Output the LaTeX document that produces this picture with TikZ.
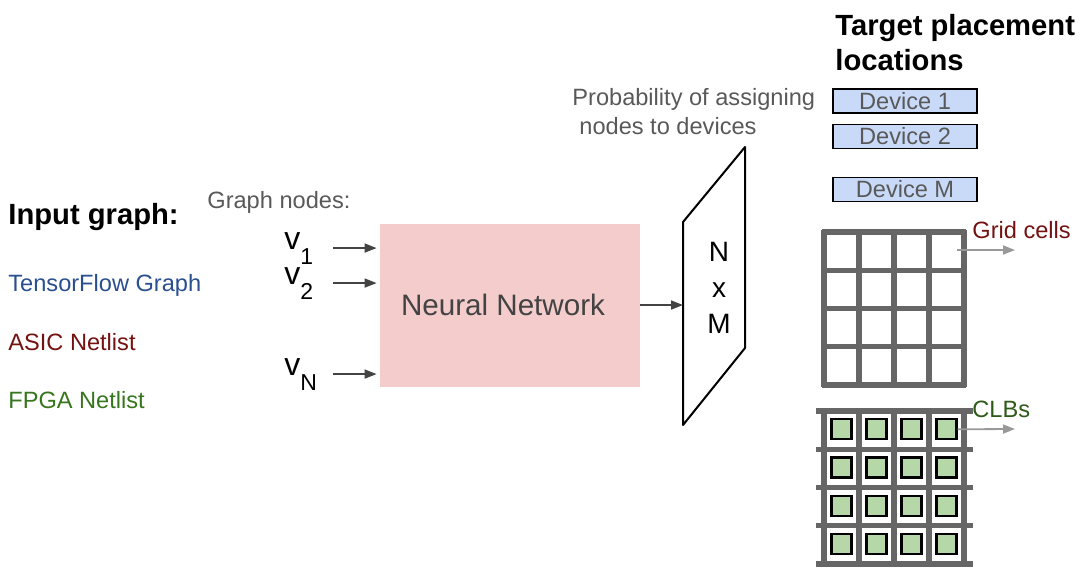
\documentclass[tikz,border=0pt]{standalone}
\usepackage{fontspec}
\setmainfont{Liberation Sans}
\usetikzlibrary{arrows.meta,positioning}
\definecolor{txtgray}{HTML}{595959}
\definecolor{darkgray}{HTML}{434343}
\definecolor{nnpink}{HTML}{F4CCCC}
\definecolor{devblue}{HTML}{C9DAF8}
\definecolor{clbgreen}{HTML}{B6D7A8}
\definecolor{gridgray}{HTML}{666666}
\definecolor{callgray}{HTML}{999999}
\definecolor{tfblue}{HTML}{2A4F8F}
\definecolor{asicred}{HTML}{741212}
\definecolor{fpgagreen}{HTML}{38761D}
\definecolor{clbtext}{HTML}{2E5A18}
\newcommand{\vsub}[1]{v\raisebox{-7.5pt}{\fontsize{11.5}{12}\selectfont#1}}
\tikzset{
  body/.style={font=\fontsize{11.8}{14.5}\selectfont, inner sep=0pt},
  head/.style={font=\bfseries\fontsize{14.6}{17.5}\selectfont, inner sep=0pt},
  vnode/.style={font=\fontsize{16}{17}\selectfont, inner sep=0pt, anchor=base west},
  feed/.style={draw=darkgray, line width=0.8pt, -{Triangle[length=6pt,width=4.5pt]}},
  callout/.style={draw=callgray, line width=0.9pt, -{Triangle[length=6pt,width=4.5pt]}},
  devbox/.style={body, draw=black, line width=0.8pt, fill=devblue, text=txtgray,
    minimum width=72pt, minimum height=12pt},
  clb/.style={draw=black, line width=1.2pt, fill=clbgreen, minimum size=10pt, inner sep=0pt},
  grid line/.style={draw=gridgray, line width=2.6pt}
}
\begin{document}
\begin{tikzpicture}[x=0.5pt,y=-0.5pt]
  \useasboundingbox (0,0) rectangle (1080,586);
  % left column
  \node[head, anchor=west] (ig) at (8,217) {Input graph:};
  \node[body, anchor=west, text=tfblue] (tf) at (8,285) {TensorFlow Graph};
  \node[body, anchor=west, text=asicred] (asic) at (8,342) {ASIC Netlist};
  \node[body, anchor=west, text=fpgagreen] (fpga) at (8,400) {FPGA Netlist};
  % graph nodes
  \node[body, anchor=west, text=txtgray] (gn) at (207,202) {Graph nodes:};
  \node[vnode] (v1) at (284,249) {\vsub{1}};
  \node[vnode] (v2) at (284,284) {\vsub{2}};
  \node[vnode] (vN) at (284,375) {\vsub{N}};
  \node[fill=nnpink, minimum width=130pt, minimum height=81.5pt, inner sep=0pt,
    font=\fontsize{14.8}{17}\selectfont, text=darkgray] (nn) at (510,305) {Neural Network\hspace*{7pt}};
  \coordinate (vx) at (333,0);
  \foreach \v in {v1,v2,vN}
    \draw[feed, shorten >=1.5pt] (\v.east -| vx) -- (\v.east -| nn.west);
  % output matrix
  \coordinate (pa) at (683,222);
  \coordinate (pb) at (745,147);
  \coordinate (pc) at (745,348);
  \coordinate (pd) at (683,425);
  \draw[line width=1pt, line join=round] (pa) -- (pb) -- (pc) -- (pd) -- cycle;
  \node[align=center, font=\fontsize{14}{18}\selectfont, inner sep=0pt] (nxm) at (719,288) {N\\x\\M};
  \draw[feed] (nn.east) -- (nn.east -| pa);
  \node[body, anchor=north west, align=left, text=txtgray] (prob) at (572,88)
    {Probability of assigning\\\hspace*{3.5pt}nodes to devices};
  % placement targets
  \node[head, anchor=north west, align=left] (tp) at (835,14) {Target placement\\locations};
  \node[devbox] (d1) at (905,101) {Device 1};
  \node[devbox] (d2) at (905,136.5) {Device 2};
  \node[devbox] (dM) at (905,189.5) {Device M};
  % grid cells
  \foreach \i in {0,...,4} {
    \draw[grid line] (824+35*\i,230) -- (824+35*\i,387);
    \draw[grid line] (822,232+38.25*\i) -- (966,232+38.25*\i);
  }
  \node[body, anchor=west, text=asicred] (gc) at (972,230) {Grid cells};
  \coordinate (gcs) at (957,250);
  \coordinate (gce) at (1015,250);
  \draw[callout] (gcs) -- (gce);
  % CLBs
  \foreach \i in {0,...,4} {
    \draw[grid line] (824+35*\i,408) -- (824+35*\i,567);
    \draw[grid line] (816,411+38.25*\i) -- (973,411+38.25*\i);
  }
  \foreach \c in {1,...,4}
    \foreach \r in {1,...,4}
      \node[clb] (clb\c\r) at (806.5+35*\c,391+38.25*\r) {};
  \node[body, anchor=west, text=clbtext] (clbs) at (972,409) {CLBs};
  \coordinate (clbe) at (1015,429);
  \draw[callout] (clb41.east) -- (clbe);
\end{tikzpicture}
\end{document}
